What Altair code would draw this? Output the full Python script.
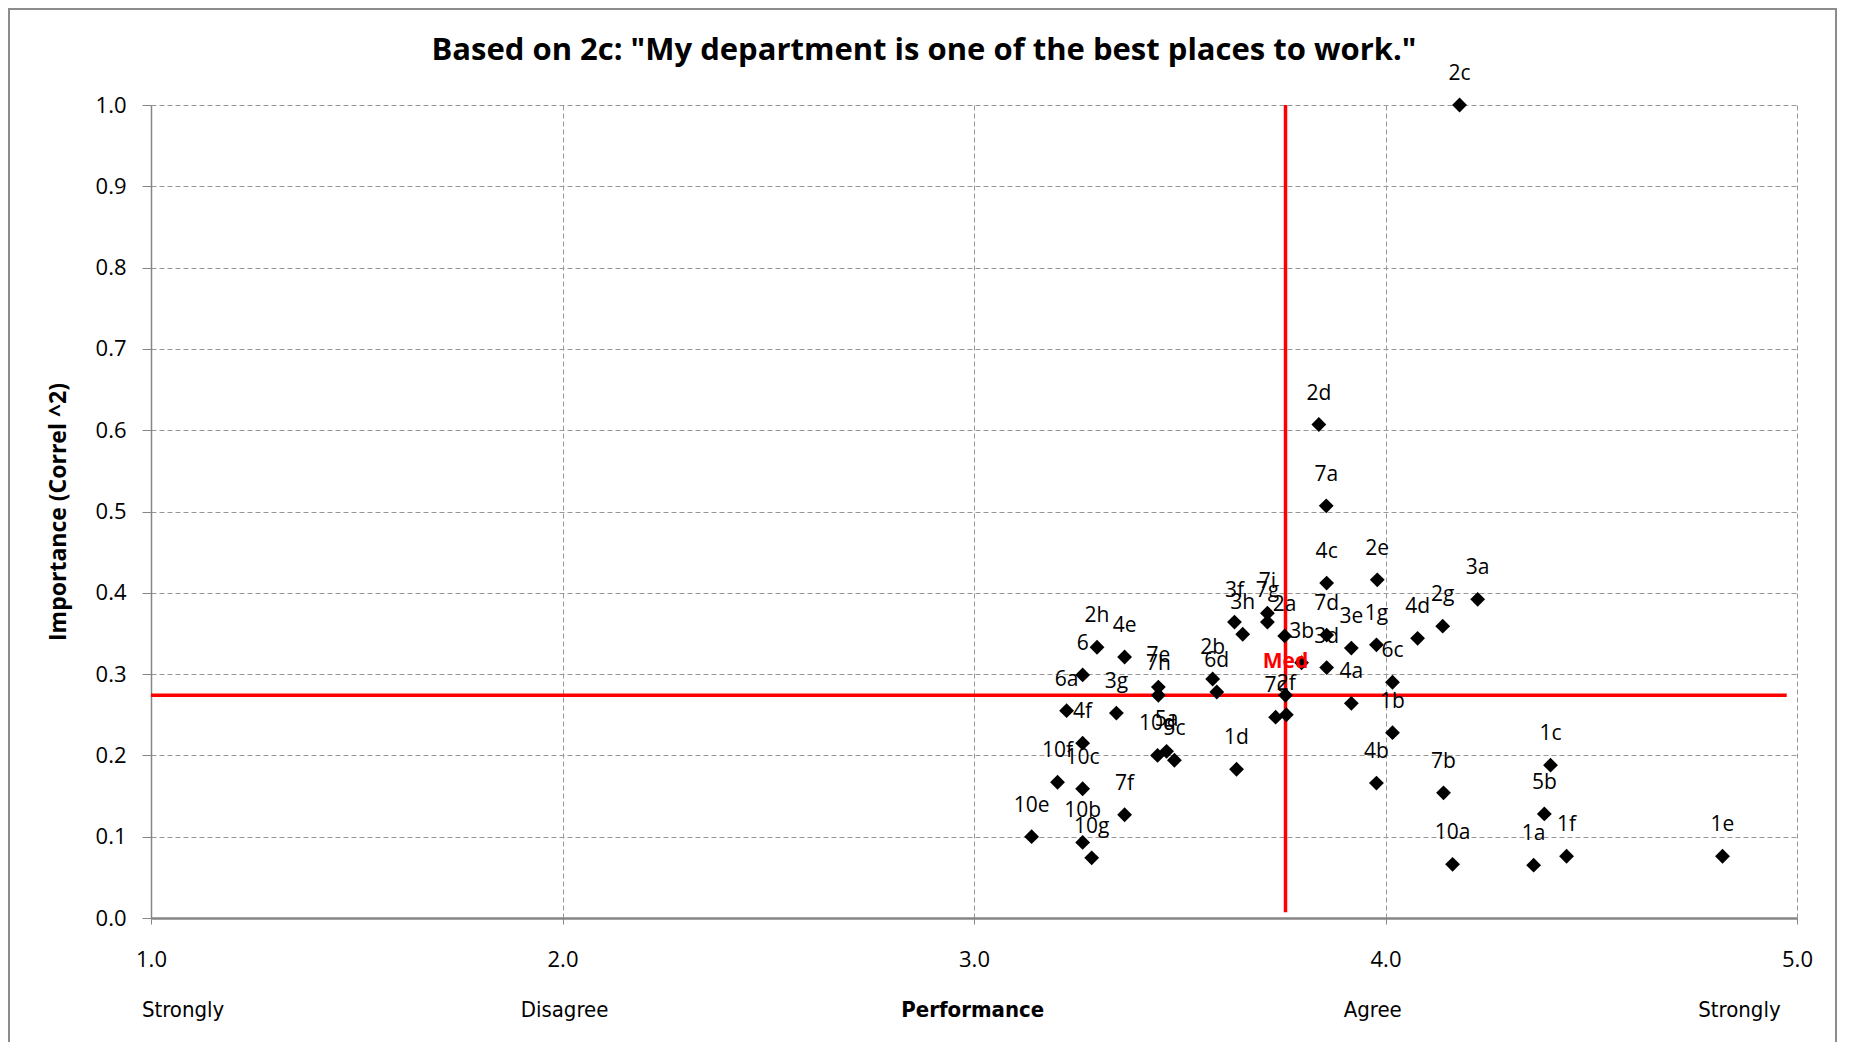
import altair as alt
import pandas as pd

# ---- data ----
labels = ["2c", "2d", "7a", "4c", "2e", "3a", "2g", "4d", "1g", "3e",
          "7d", "3d", "4a", "6c", "1b", "4b", "7b", "1c", "5b", "10a",
          "1a", "1f", "1e", "7i", "7g", "2a", "3b", "Med", "7c", "2f",
          "3f", "3h", "2b", "6d", "7e", "7h", "10d", "5a", "5c", "1d",
          "2h", "4e", "6", "6a", "4f", "3g", "10f", "10c", "7f", "10e",
          "10b", "10g"]
performance = [4.180, 3.838, 3.856, 3.857, 3.980, 4.224, 4.139, 4.078, 3.978, 3.917,
               3.857, 3.857, 3.917, 4.017, 4.017, 3.978, 4.141, 4.401, 4.386, 4.163,
               4.360, 4.440, 4.819, 3.713, 3.713, 3.755, 3.796, 3.757, 3.733, 3.759,
               3.633, 3.653, 3.580, 3.590, 3.448, 3.448, 3.446, 3.468, 3.487, 3.638,
               3.299, 3.366, 3.264, 3.225, 3.264, 3.346, 3.203, 3.264, 3.366, 3.140,
               3.264, 3.286]
importance = [1.000, 0.607, 0.507, 0.412, 0.416, 0.392, 0.359, 0.344, 0.336, 0.332,
              0.348, 0.308, 0.264, 0.290, 0.228, 0.166, 0.154, 0.188, 0.128, 0.066,
              0.065, 0.076, 0.076, 0.375, 0.364, 0.347, 0.314, 0.274, 0.247, 0.250,
              0.364, 0.349, 0.294, 0.278, 0.284, 0.274, 0.200, 0.205, 0.194, 0.183,
              0.333, 0.321, 0.299, 0.255, 0.215, 0.252, 0.167, 0.159, 0.127, 0.100,
              0.093, 0.074]

median_performance = 3.757
median_importance = 0.274
hline_range = [1.0, 4.975]
vline_range = [0.007, 1.0]

scale_words = ["Strongly", "Disagree", "Performance", "Agree", "Strongly"]
scale_word_x = [1.078, 2.005, 2.997, 3.969, 4.86]
scale_word_bold = [False, False, True, False, False]

x_ticks = [1, 2, 3, 4, 5]
y_ticks = [0.0, 0.1, 0.2, 0.3, 0.4, 0.5, 0.6, 0.7, 0.8, 0.9, 1.0]

title_text = 'Based on 2c: "My department is one of the best places to work."'
y_title = "Importance (Correl ^2)"

# ---- layout ----
W, H = 1646, 813
PAD = {"left": 143, "top": 97, "right": 41, "bottom": 124}
FONT = "Open Sans"
NARROW = "Liberation Sans Narrow, DejaVu Sans Condensed, Roboto"
GRID = "#999999"
AXIS = "#868686"

pts = pd.DataFrame({"label": labels, "performance": performance, "importance": importance})

xscale = alt.Scale(domain=[1, 5], nice=False, zero=False)
yscale = alt.Scale(domain=[0, 1], nice=False, zero=False)

xaxis = alt.Axis(values=x_ticks, format=".1f", title=None, labelFlush=False,
                 grid=True, gridColor=GRID, gridDash=[5, 3], gridWidth=1,
                 domainColor=AXIS, domainWidth=2.5, tickColor=AXIS, tickSize=6,
                 labelFont=FONT, labelFontSize=22, labelColor="#000000",
                 labelPadding=25, labelBaseline="top")
yaxis = alt.Axis(values=y_ticks, format=".1f", labelFlush=False,
                 title=y_title, titleFont=FONT, titleFontSize=23, titleFontWeight="bold",
                 titleColor="#000000", titleX=-93, titleY=H / 2, titleAngle=270,
                 titleAlign="center", titleBaseline="middle",
                 grid=True, gridColor=GRID, gridDash=[5, 3], gridWidth=1,
                 domainColor=AXIS, domainWidth=1.5, tickColor=AXIS, tickSize=9,
                 labelFont=FONT, labelFontSize=22, labelColor="#000000",
                 labelPadding=16)


def X(field):
    return alt.X(field, scale=xscale, axis=xaxis)


def Y(field):
    return alt.Y(field, scale=yscale, axis=yaxis)


base = alt.Chart(pts)

points = base.mark_point(shape="diamond", filled=True, size=220, color="#000000",
                         opacity=1).encode(x=X("performance:Q"), y=Y("importance:Q"))

point_labels = base.transform_filter(alt.datum.label != "Med").mark_text(
    font=FONT, fontSize=21, color="#000000", baseline="alphabetic", dy=-25
).encode(x=X("performance:Q"), y=Y("importance:Q"), text="label:N")

med_label = base.transform_filter(alt.datum.label == "Med").mark_text(
    font=FONT, fontSize=21, fontWeight="bold", color="#ff0000",
    baseline="alphabetic", dy=-27
).encode(x=X("performance:Q"), y=Y("importance:Q"), text="label:N")

hline = alt.Chart(pd.DataFrame({"performance": [hline_range[0]], "x2": [hline_range[1]],
                                "importance": [median_importance]})).mark_rule(
    color="#ff0000", strokeWidth=3.5).encode(
    x=X("performance:Q"), x2="x2:Q", y=Y("importance:Q"))

vline = alt.Chart(pd.DataFrame({"performance": [median_performance],
                                "importance": [vline_range[0]],
                                "y2": [vline_range[1]]})).mark_rule(
    color="#ff0000", strokeWidth=3.5).encode(
    x=X("performance:Q"), y=Y("importance:Q"), y2="y2:Q")

words = pd.DataFrame({"word": scale_words, "performance": scale_word_x,
                      "bold": scale_word_bold})
words_plain = alt.Chart(words).transform_filter(alt.datum.bold == False).mark_text(
    font=NARROW, fontSize=22, color="#000000", baseline="alphabetic"
).encode(x=X("performance:Q"), y=alt.value(912), text="word:N")
words_bold = alt.Chart(words).transform_filter(alt.datum.bold == True).mark_text(
    font=NARROW, fontSize=22, fontWeight="bold", color="#000000", baseline="alphabetic"
).encode(x=X("performance:Q"), y=alt.value(912), text="word:N")

title = alt.Chart(pd.DataFrame({"t": [title_text]})).mark_text(
    font=FONT, fontSize=31, fontWeight="bold", color="#000000", baseline="alphabetic"
).encode(x=alt.value(773), y=alt.value(-45), text="t:N")

border = alt.Chart(pd.DataFrame({"b": [0]})).mark_rect(
    fillOpacity=0, stroke="#8c8c8c", strokeWidth=2
).encode(x=alt.value(-142), x2=alt.value(1685), y=alt.value(-96), y2=alt.value(970))

chart = alt.layer(border, hline, vline, points, point_labels, med_label,
                  words_plain, words_bold, title).properties(
    width=W, height=H, padding=PAD,
    autosize=alt.AutoSizeParams(type="none"),
    background="#ffffff",
).configure_view(strokeWidth=0)

chart.save("out.html", embed_options={"renderer": "svg", "actions": False})
